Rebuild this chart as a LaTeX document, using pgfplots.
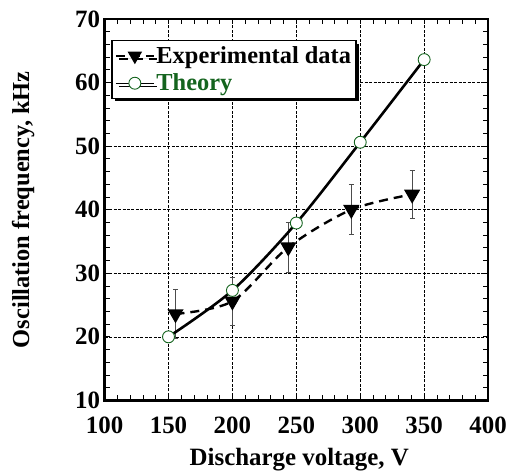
\documentclass[border=0pt]{standalone}
\usepackage{pgfplots}
\pgfplotsset{compat=1.18}
\usetikzlibrary{shadows}
\usepackage{fontspec}
\setmainfont{Liberation Serif}
\definecolor{thgreen}{RGB}{20,100,30}
\begin{document}
\begin{tikzpicture}
\begin{axis}[name=ax,
  scale only axis, width=385pt, height=383pt,
  xmin=100, xmax=400, ymin=10, ymax=70,
  xtick={100,150,...,400}, ytick={10,20,...,70},
  minor x tick num=4, minor y tick num=4,
  tick align=inside, tick pos=both,
  major tick length=5pt, minor tick length=5pt,
  axis line style={line width=2.8pt},
  every tick/.style={black, line width=0.7pt},
  grid=major,
  major grid style={dash pattern=on 3pt off 1.5pt, black, line width=0.6pt},
  ticklabel style={font=\fontsize{25}{25}\selectfont\bfseries},
  xticklabel style={yshift=-13pt},
  yticklabel style={xshift=-1pt},
  /pgf/number format/assume math mode=true,
  xlabel={Discharge voltage, V}, ylabel={Oscillation frequency, kHz},
  xlabel style={font=\fontsize{25}{25}\selectfont\bfseries, at={(axis description cs:0.5,0)}, anchor=base, yshift=-65pt, xshift=3pt},
  ylabel style={font=\fontsize{24.5}{24.5}\selectfont\bfseries, at={(axis description cs:-0.212,0.5)}, anchor=center},
  legend style={at={(axis description cs:0.018,0.945)}, anchor=north west, draw=black, line width=1.5pt,
    font=\fontsize{24.5}{28}\selectfont\bfseries, inner xsep=3pt, inner ysep=4pt,
    drop shadow={shadow xshift=3pt, shadow yshift=-3pt, fill=black, opacity=1},
    legend cell align=left, row sep=5pt},
  legend image code/.code={\draw[mark repeat=2,mark phase=2,#1] plot coordinates {(0pt,0pt) (19pt,0pt) (38pt,0pt)};},
  legend image post style={line width=1.4pt},
  clip=false,
]
\addplot[black, line width=2.4pt, dash pattern=on 9pt off 6pt, smooth, tension=0.5,
  mark=triangle*, mark options={solid, rotate=180, mark size=7pt, fill=black},
  error bars/.cd, y dir=both, y explicit, error bar style={solid, line width=0.9pt, black!70}, error mark options={rotate=90, mark size=2.5pt, line width=0.9pt}]
  table[x=x, y=y, y error=e] {
x y e
155.5 23.6 3.8
200 25.6 3.8
243.7 34.1 3.9
293 40.0 3.9
340.6 42.4 3.8
};
\addlegendentry{Experimental data}
\addplot[black, line width=2.6pt, smooth, tension=0.5,
  mark=*, mark options={solid, draw=thgreen, fill=white, mark size=6pt, line width=0.9pt}]
  coordinates {(150,20) (200,27.3) (250,37.9) (300,50.6) (350,63.6)};
\addlegendentry{\textcolor{thgreen}{Theory}}
\end{axis}
\pgfresetboundingbox
\path[use as bounding box] ([shift={(-105pt,-72pt)}]ax.south west) rectangle ([shift={(19pt,19pt)}]ax.north east);
\end{tikzpicture}
\end{document}
